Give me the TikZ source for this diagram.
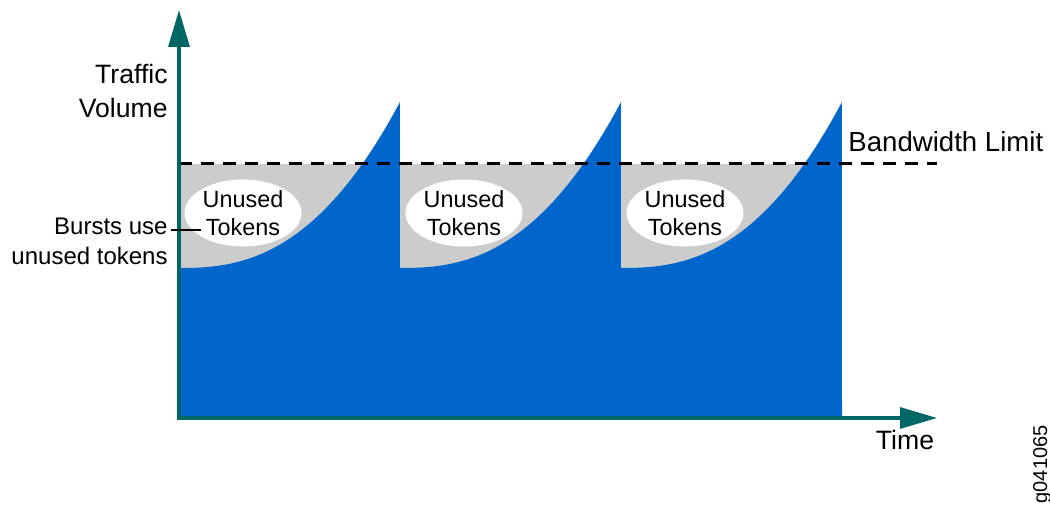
\documentclass[tikz,border=0pt]{standalone}
\usepackage{fontspec}
\setmainfont{Liberation Sans}
\usetikzlibrary{shapes.geometric, arrows.meta}
\definecolor{flowblue}{RGB}{0,102,204}
\definecolor{axisteal}{RGB}{0,102,102}
\definecolor{tokengray}{RGB}{204,204,204}

\begin{document}
\begin{tikzpicture}[x=0.5pt, y=0.5pt,
  axis/.style={axisteal, line width=1.6pt, line cap=rect,
    -{Triangle[length=18.5pt, width=10.5pt]}},
  axislabel/.style={inner sep=0pt, font=\fontsize{13.3}{15}\selectfont},
  notelabel/.style={inner sep=0pt, font=\fontsize{12}{14}\selectfont},
  tokenblob/.style={ellipse, fill=white, minimum width=58.5pt, minimum height=33.5pt,
    inner sep=0pt, align=center, font=\fontsize{11.7}{14}\selectfont}]
  \useasboundingbox (0,0) rectangle (1050,506);
  % ---------------- traffic: one burst per interval ----------------
  \foreach \s [count=\i] in {179,400,621} {
    \fill[tokengray] (\s,238) rectangle (\s+221,342);
    \fill[flowblue] (\s,88) -- (\s,238)
      -- plot[domain=0:1, samples=60] ({\s+221*\x}, {238+166*\x*\x*sqrt(\x)})
      -- (\s+221,88) -- cycle;
    \node[tokenblob] (tok\i) at (\s+64,293) {Unused\\Tokens};
  }
  % ---------------- bandwidth limit ----------------
  \coordinate (limitstart) at (179,342);
  \coordinate (limitend) at (937,342);
  \draw[black, line width=1.5pt, dash pattern=on 6.5pt off 4.5pt] (limitstart) -- (limitend);
  \node[axislabel, font=\fontsize{13.8}{15}\selectfont, anchor=base west] (limit) at (848,354) {Bandwidth Limit};
  % ---------------- axes ----------------
  \coordinate (origin) at (179,88);
  \coordinate (ytip) at (179,496);
  \coordinate (xtip) at (937,88);
  \draw[axis] (origin) -- (ytip);
  \draw[axis] (origin) -- (xtip);
  \node[axislabel, anchor=base east] (traffic) at (168,422) {Traffic};
  \node[axislabel, anchor=base east] (volume) at (168,388) {Volume};
  \node[axislabel, anchor=base] (time) at (905,56) {Time};
  % ---------------- bursts note ----------------
  \node[notelabel, anchor=base east] (bursts) at (168,271) {Bursts use};
  \node[notelabel, anchor=base east] (unused) at (168,241) {unused tokens};
  \coordinate (leadend) at (201,277);
  \draw[black, line width=0.7pt] ([xshift=1.5pt, yshift=-1.5pt]bursts.east)
    -- ([yshift=-1.5pt]bursts.east -| leadend);
  % figure id
  \node[inner sep=0pt, rotate=90, anchor=base east, font=\fontsize{10}{12}\selectfont] (figid) at (1047,81) {g041065};
\end{tikzpicture}
\end{document}
